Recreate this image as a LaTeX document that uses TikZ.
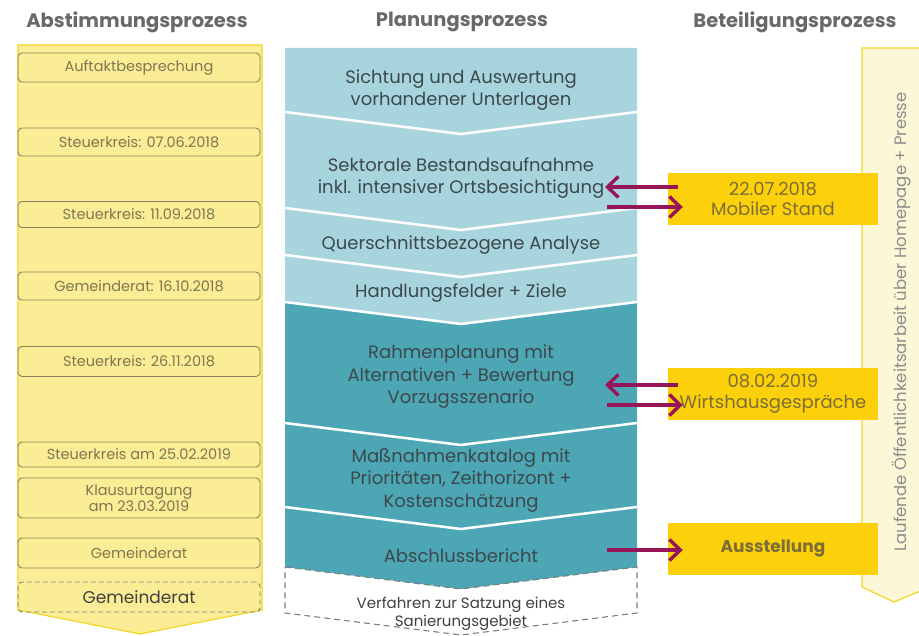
\documentclass[tikz,border=0pt]{standalone}
\usepackage{fontspec}
\setmainfont{Poppins}
\usetikzlibrary{arrows.meta}
\definecolor{colyel}{RGB}{251,237,150}
\definecolor{colgold}{RGB}{242,214,40}
\definecolor{boxline}{RGB}{140,130,95}
\definecolor{boxtext}{RGB}{125,120,80}
\definecolor{cream}{RGB}{252,248,215}
\definecolor{goldbox}{RGB}{252,208,10}
\definecolor{goldtext}{RGB}{125,110,55}
\definecolor{tealL}{RGB}{168,213,221}
\definecolor{tealD}{RGB}{76,166,180}
\definecolor{midtext}{RGB}{60,72,76}
\definecolor{headgray}{RGB}{105,105,105}
\definecolor{parrow}{RGB}{150,20,88}
\definecolor{dashgray}{RGB}{125,125,125}
\begin{document}
\begin{tikzpicture}[x=1pt,y=-1pt,
  header/.style={font=\fontsize{19.5}{22}\selectfont\bfseries, text=headgray},
  lbox/.style={draw=boxline, line width=0.9pt, rounded corners=4pt, minimum width=242pt, inner sep=0pt, align=center, text=boxtext, font=\fontsize{14.5}{17}\selectfont},
  rbox/.style={fill=goldbox, minimum width=210pt, minimum height=52pt, inner sep=0pt, align=center, text=goldtext, font=\fontsize{18}{20.5}\selectfont},
  midlabel/.style={align=center, text=midtext, font=\fontsize{18}{22.5}\selectfont},
  sepline/.style={draw=white, line width=2.5pt},
  parr/.style={draw=parrow, line width=3.8pt, -{Straight Barb[length=11pt,width=21pt,line width=3.4pt]}}
]
\useasboundingbox (0,0) rectangle (919,636);

% headers
\node[header] (h1) at (137,22) {Abstimmungsprozess};
\node[header] (h2) at (462,22) {Planungsprozess};
\node[header] (h3) at (795,22) {Beteiligungsprozess};

% left column arrow
\filldraw[fill=colyel, draw=colgold, line width=1.2pt]
  (18,45) -- (262,45) -- (262,610) -- (140,634) -- (18,610) -- cycle;

\node[lbox, minimum height=29pt] (l1) at (139,67.5) {Auftaktbesprechung};
\node[lbox, minimum height=28pt] (l2) at (139,142) {Steuerkreis: 07.06.2018};
\node[lbox, minimum height=26pt] (l3) at (139,214.5) {Steuerkreis: 11.09.2018};
\node[lbox, minimum height=28pt] (l4) at (139,286) {Gemeinderat: 16.10.2018};
\node[lbox, minimum height=30pt] (l5) at (139,361.5) {Steuerkreis: 26.11.2018};
\node[lbox, minimum height=25pt] (l6) at (139,454.5) {Steuerkreis am 25.02.2019};
\node[lbox, minimum height=40pt, font=\fontsize{14.5}{16}\selectfont] (l7) at (139,498) {Klausurtagung\\am 23.03.2019};
\node[lbox, minimum height=30pt] (l8) at (139,553) {Gemeinderat};
\node[lbox, minimum height=30pt, dashed, dash pattern=on 5pt off 3pt, draw=dashgray, text=black!75, font=\fontsize{17}{19}\selectfont] (l9) at (139,597) {Gemeinderat};

% right column arrow
\filldraw[fill=cream, draw=colgold, line width=1.2pt]
  (862,48) -- (930,48) -- (930,587) -- (894,602) -- (862,587) -- cycle;
\node[rotate=90, text=black!45, font=\fontsize{16.5}{19}\selectfont] (v1) at (902,322) {Laufende Öffentlichkeitsarbeit über Homepage + Presse};

% middle column segments
\fill[tealL] (285,48) -- (637,48) -- (637,112) -- (461,134) -- (285,112) -- cycle;
\fill[tealL] (285,112) -- (461,134) -- (637,112) -- (637,208) -- (461,230) -- (285,208) -- cycle;
\fill[tealL] (285,208) -- (461,230) -- (637,208) -- (637,255) -- (461,277) -- (285,255) -- cycle;
\fill[tealL] (285,255) -- (461,277) -- (637,255) -- (637,302) -- (461,324) -- (285,302) -- cycle;
\fill[tealD] (285,302) -- (461,324) -- (637,302) -- (637,423) -- (461,445) -- (285,423) -- cycle;
\fill[tealD] (285,423) -- (461,445) -- (637,423) -- (637,507) -- (461,529) -- (285,507) -- cycle;
\fill[tealD] (285,507) -- (461,529) -- (637,507) -- (637,567) -- (461,589) -- (285,567) -- cycle;
\draw[sepline] (285,112) -- (461,134) -- (637,112);
\draw[sepline] (285,208) -- (461,230) -- (637,208);
\draw[sepline] (285,255) -- (461,277) -- (637,255);
\draw[sepline] (285,302) -- (461,324) -- (637,302);
\draw[sepline] (285,423) -- (461,445) -- (637,423);
\draw[sepline] (285,507) -- (461,529) -- (637,507);
\draw[draw=dashgray, line width=1.1pt, dash pattern=on 6pt off 4pt]
  (285,567) -- (461,589) -- (637,567) -- (637,613) -- (461,635) -- (285,613) -- cycle;

\node[midlabel] (s1) at (461,90) {Sichtung und Auswertung\\vorhandener Unterlagen};
\node[midlabel] (s2) at (461,178) {Sektorale Bestandsaufnahme\\inkl. intensiver Ortsbesichtigung};
\node[midlabel] (s3) at (461,245) {Querschnittsbezogene Analyse};
\node[midlabel] (s4) at (461,293) {Handlungsfelder + Ziele};
\node[midlabel] (s5) at (461,377) {Rahmenplanung mit\\Alternativen + Bewertung\\Vorzugsszenario};
\node[midlabel] (s6) at (461,480) {Maßnahmenkatalog mit\\Prioritäten, Zeithorizont +\\Kostenschätzung};
\node[midlabel] (s7) at (461,556) {Abschlussbericht};
\node[midlabel, font=\fontsize{15}{18}\selectfont, text=black!75] (s8) at (461,614) {Verfahren zur Satzung eines\\Sanierungsgebiet};

% right boxes
\node[rbox] (r1) at (773,199) {22.07.2018\\Mobiler Stand};
\node[rbox] (r2) at (773,394) {08.02.2019\\Wirtshausgespräche};
\node[rbox, font=\fontsize{17}{19}\selectfont\bfseries] (r3) at (773,549) {Ausstellung};

% arrows
\coordinate (p1) at (605,187);
\coordinate (q1) at (607,207);
\coordinate (p2) at (605,385);
\coordinate (q2) at (607,405);
\coordinate (q3) at (607,550);
\draw[parr] ([xshift=10pt]r1.west |- p1) -- (p1);
\draw[parr] (q1) -- ([xshift=15pt]r1.west |- q1);
\draw[parr] ([xshift=10pt]r2.west |- p2) -- (p2);
\draw[parr] (q2) -- ([xshift=15pt]r2.west |- q2);
\draw[parr] (q3) -- ([xshift=15pt]r3.west |- q3);
\end{tikzpicture}
\end{document}
